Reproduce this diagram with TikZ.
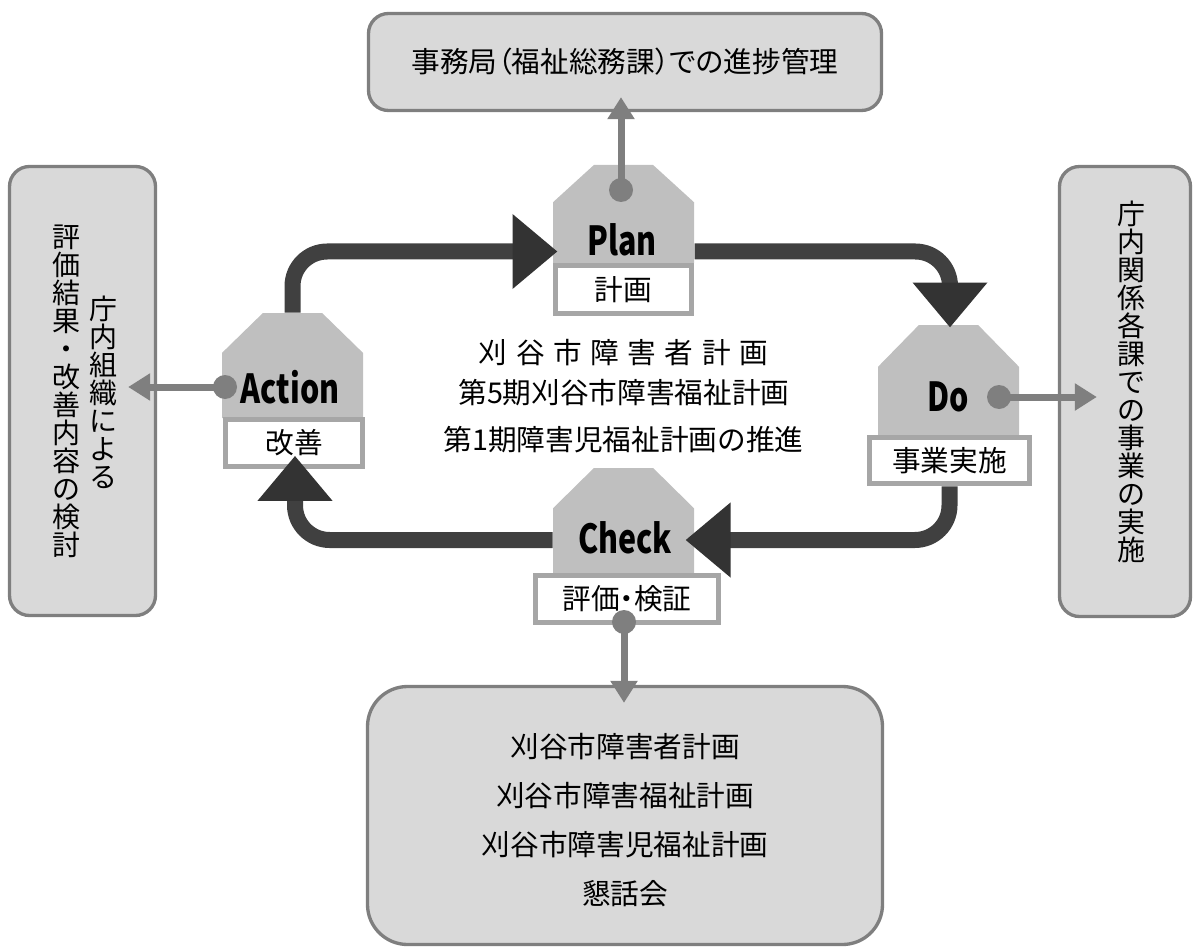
\documentclass[tikz,border=0pt]{standalone}
\usepackage{fontspec}
\setmainfont{Noto Sans CJK JP}
\newfontfamily\tagfont[FakeStretch=0.76]{Noto Sans CJK JP}
\newfontfamily\paltfont[RawFeature=+palt]{Noto Sans CJK JP}
\usetikzlibrary{arrows.meta,calc}
\newcommand{\ksp}{\hspace{6.4pt}}
\lineskiplimit=-10pt

\definecolor{boxgray}{HTML}{D9D9D9}
\definecolor{linegray}{HTML}{7F7F7F}
\definecolor{taggray}{HTML}{BFBFBF}
\definecolor{lblgray}{HTML}{A6A6A6}
\definecolor{cycdark}{HTML}{404040}
\definecolor{headdark}{HTML}{333333}

\tikzset{every picture/.style={line width=0.75pt},
  outerbox/.style={draw=linegray, fill=boxgray, line width=2.5pt, rounded corners=15pt, inner sep=0pt, font=\fontsize{21.5}{26}\selectfont},
  tagbox/.style={inner sep=0pt, minimum width=105.75pt,
    path picture={\fill[taggray] ($(path picture bounding box.north west)!0.38!(path picture bounding box.south west)$)
      -- ($(path picture bounding box.north west)!0.29!(path picture bounding box.north east)$)
      -- ($(path picture bounding box.north east)!0.29!(path picture bounding box.north west)$)
      -- ($(path picture bounding box.north east)!0.38!(path picture bounding box.south east)$)
      -- (path picture bounding box.south east) -- (path picture bounding box.south west) -- cycle;}},
  lblbox/.style={draw=lblgray, fill=white, line width=3.75pt, inner sep=0pt, minimum height=35pt, font=\fontsize{21.5}{26}\selectfont},
  tagword/.style={inner sep=0pt, font=\tagfont\bfseries\fontsize{30}{30}\selectfont},
  tagdot/.style={circle, fill=linegray, inner sep=0pt, minimum size=18pt},
  conn/.style={draw=linegray, line width=5.25pt, -{Triangle[length=16.5pt,width=19.5pt]}},
  cyc/.style={draw=cycdark, line width=12pt, rounded corners=26pt, -{Triangle[length=33.75pt,width=54pt,color=headdark]}},
  tate/.style={align=center, inner sep=0pt, font=\fontsize{21}{21}\selectfont},
  midtext/.style={inner sep=0pt, font=\fontsize{21.5}{26}\selectfont}
}

\begin{document}
\begin{tikzpicture}[x=0.75pt,y=0.75pt,yscale=-1,xscale=1]
\useasboundingbox (0,0) rectangle (1195,952);

\node[outerbox, minimum width=384.75pt, minimum height=72.75pt] (topbox) at (625,62) {\paltfont 事務局（福祉総務課）での進捗管理};
\node[outerbox, minimum width=109.5pt, minimum height=336.75pt] (leftbox) at (82.5,391) {};
\node[outerbox, minimum width=98.25pt, minimum height=337.5pt] (rightbox) at (1125,391.5) {};
\node[outerbox, rounded corners=30pt, minimum width=386.25pt, minimum height=193.5pt] (btmbox) at (625,815.5) {};

\node[tate] (soshiki) at (103.5,392) {庁\\内\\組\\織\\に\\よ\\る};
\node[tate] (kento) at (66.5,391) {評\\価\\結\\果\\・\\改\\善\\内\\容\\の\\検\\討};
\node[tate] (jigyo) at (1131,382) {庁\\内\\関\\係\\各\\課\\で\\の\\事\\業\\の\\実\\施};
\node[align=center, inner sep=0pt, font=\fontsize{21.5}{36.75}\selectfont] (kondan) at (625,820) {刈谷市障害者計画\\刈谷市障害福祉計画\\刈谷市障害児福祉計画\\懇話会};

\node[midtext] (keikaku1) at (623.5,353) {刈\ksp 谷\ksp 市\ksp 障\ksp 害\ksp 者\ksp 計\ksp 画};
\node[midtext] (keikaku2) at (624,393) {第5期刈谷市障害福祉計画};
\node[midtext] (keikaku3) at (623.5,440) {第1期障害児福祉計画の推進};

\node[tagbox, minimum height=73.5pt] (plantag) at (623.5,214) {};
\node[tagbox, minimum height=78.75pt] (acttag) at (292.5,365.5) {};
\node[tagbox, minimum height=82.5pt] (dotag) at (948.5,380) {};
\node[tagbox, minimum height=79.5pt] (chktag) at (623.5,521) {};

\node[lblbox, minimum width=102pt, minimum height=36pt] (planlbl) at (623.5,289.5) {計画};
\node[lblbox, minimum width=102.75pt] (actlbl) at (294,443) {改善};
\node[lblbox, minimum width=120pt] (dolbl) at (949.5,460.5) {事業実施};
\node[lblbox, minimum width=137.25pt] (chklbl) at (627,599) {\paltfont 評価・検証};

\node[tagword] (planword) at (622,240) {Plan};
\node[tagword] (actword) at (290,387) {Action};
\node[tagword] (doword) at (948,397) {Do};
\node[tagword] (chkword) at (625,538) {Check};

\node[tagdot] (plandot) at (621,190) {};
\node[tagdot] (actdot) at (225,387) {};
\node[tagdot] (dodot) at (999,397) {};
\node[tagdot] (chkdot) at (624,622) {};

\draw[conn] (plandot.center) -- ($(plandot.center |- topbox.south)+(0,-15)$);
\draw[conn] (actdot.center) -- ($(leftbox.east |- actdot.center)+(-29,0)$);
\draw[conn] (dodot.center) -- ($(rightbox.west |- dodot.center)+(39,0)$);
\draw[conn] (chkdot.center) -- ($(chkdot.center |- btmbox.north)+(0,18)$);

\draw[cyc] (acttag.north) |- ($(plantag.south west)+(5,-12)$);
\draw[cyc] ($(plantag.south east)+(0,-12)$) -| ($(dotag.north)+(1.5,3)$);
\draw[cyc] (dolbl.south) |- ($(chktag.east)+(-9,19)$);
\draw[cyc] ($(chktag.west)+(0,19)$) -| ($(actlbl.south)+(1,-13)$);
\end{tikzpicture}
\end{document}
